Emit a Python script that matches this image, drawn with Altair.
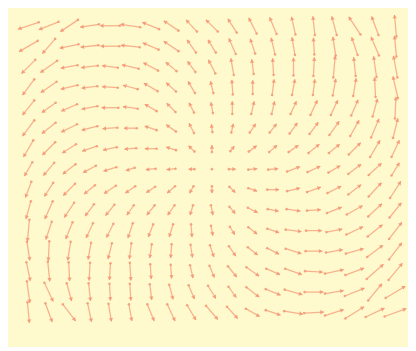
import math
import altair as alt
import pandas as pd

# grid indices (columns left->right, rows top->bottom)
COLS = list(range(19))
ROWS = list(range(15))

# vector components: U = rightward, V = downward (pixels)
U = [
    [-21, -20, -18, -19, -20, -20, -17, -15, -11, -12, -9, -8, -7, -4, -2, -5, -12, -7, -2],
    [-19, -13, -19, -18, -19, -19, -16, -15, -9, -8, -7, -5, -4, -3, -1, -3, -6, -8, -2],
    [-14, -17, -17, -17, -16, -17, -15, -11, -8, -7, -3, -2, -1, 0, 1, 2, -2, -3, -4],
    [-12, -16, -17, -16, -16, -15, -14, -10, -7, -3, -1, 0, 2, 3, 2, 3, 3, -1, -5],
    [-12, -14, -16, -16, -17, -15, -12, -9, -5, -2, 0, 3, 3, 6, 7, 7, 7, 5, 1],
    [-12, -14, -16, -16, -15, -13, -12, -10, -5, -1, 2, 6, 7, 8, 9, 10, 9, 8, 5],
    [-10, -13, -14, -15, -14, -12, -12, -10, -6, 0, 4, 8, 8, 10, 11, 11, 12, 10, 8],
    [-8, -11, -13, -13, -13, -9, -10, -9, -6, 0, 7, 9, 10, 13, 13, 12, 13, 13, 8],
    [-6, -9, -12, -11, -12, -10, -9, -8, -4, 0, 6, 9, 12, 13, 14, 14, 13, 13, 11],
    [-5, -8, -10, -9, -9, -7, -8, -7, -3, 2, 6, 10, 11, 14, 14, 15, 16, 14, 12],
    [-2, -6, -7, -7, -7, -5, -5, -4, 1, 2, 5, 9, 12, 16, 16, 16, 17, 15, 13],
    [3, -1, -3, -3, -4, -2, -2, -1, 2, 4, 7, 10, 12, 16, 17, 17, 18, 16, 13],
    [4, 2, 1, -1, -1, 1, 1, 1, 3, 5, 9, 13, 14, 17, 18, 19, 19, 17, 14],
    [3, 9, 5, 2, 1, 1, 2, 4, 6, 8, 8, 13, 15, 18, 19, 19, 20, 14, 20],
    [2, 7, 13, 4, 3, 3, 7, 8, 9, 12, 11, 14, 15, 19, 20, 19, 19, 19, 22],
]
V = [
    [7, 8, 12, 3, 0, -3, -7, -10, -12, -12, -14, -16, -17, -18, -19, -19, -18, -19, -22],
    [11, 15, 4, 2, 0, -2, -7, -10, -13, -13, -16, -15, -17, -18, -17, -19, -18, -19, -21],
    [14, 12, 3, 2, -2, -4, -8, -9, -11, -14, -17, -15, -17, -18, -19, -22, -19, -21, -22],
    [16, 11, 4, 2, -1, -4, -8, -9, -12, -12, -15, -14, -16, -16, -16, -17, -18, -20, -22],
    [15, 10, 7, 3, 0, -2, -7, -9, -10, -11, -13, -13, -13, -13, -15, -15, -16, -18, -22],
    [16, 11, 8, 4, 1, 0, -4, -7, -10, -8, -9, -9, -9, -11, -12, -14, -16, -19, -20],
    [17, 13, 9, 5, 3, 1, 0, -3, -6, -7, -5, -6, -7, -7, -9, -9, -12, -17, -17],
    [14, 13, 10, 7, 4, 3, 1, 1, 0, 0, 0, -1, -1, -5, -6, -7, -10, -12, -13],
    [16, 14, 12, 9, 8, 7, 6, 7, 7, 7, 6, 3, 0, -3, -5, -7, -10, -14, -17],
    [18, 18, 15, 12, 11, 10, 10, 10, 10, 10, 7, 5, 2, 2, -1, -6, -9, -13, -15],
    [22, 18, 17, 15, 14, 15, 13, 13, 13, 10, 8, 7, 4, 2, 0, -3, -8, -12, -17],
    [19, 20, 19, 17, 16, 16, 14, 14, 13, 12, 10, 8, 6, 5, 0, -3, -5, -12, -17],
    [19, 20, 19, 18, 17, 18, 15, 14, 13, 12, 11, 9, 6, 6, 1, -4, -7, -15, -17],
    [22, 19, 18, 18, 17, 17, 16, 15, 14, 13, 11, 10, 6, 5, 0, -3, -8, -17, -12],
    [21, 19, 17, 19, 18, 17, 17, 17, 15, 14, 12, 8, 5, 3, -1, -6, -12, -9, -8],
]

W, H = 408, 339
SX, SY = 20.8, 20.9          # pixels per grid step
X0, Y0 = 20.8, 14.7          # pixel position of first grid point
xdom = [-X0 / SX, (W - X0) / SX]
ydom = [-Y0 / SY, (H - Y0) / SY]

recs = []
for j in ROWS:
    for i in COLS:
        u, v = U[j][i], V[j][i]
        L = math.hypot(u, v)
        xt, yt = i - u / 2 / SX, j - v / 2 / SY
        xh, yh = i + u / 2 / SX, j + v / 2 / SY
        if L > 0:
            hx = xh - (u / L) * 2.2 / SX
            hy = yh - (v / L) * 2.2 / SY
            ang = (math.degrees(math.atan2(u, -v)) + 360) % 360
        else:
            hx, hy, ang = xh, yh, 0
        recs.append(dict(xt=xt, yt=yt, xh=xh, yh=yh, hx=hx, hy=hy, angle=ang, L=L))
df = pd.DataFrame(recs)

COLOR = "#f39373"
xs = alt.Scale(domain=xdom, nice=False, zero=False)
ys = alt.Scale(domain=ydom, nice=False, zero=False, reverse=True)

base = alt.Chart(df)
lines = base.mark_rule(color=COLOR, strokeWidth=1.3, opacity=0.7).encode(
    x=alt.X("xt:Q", scale=xs, axis=None),
    y=alt.Y("yt:Q", scale=ys, axis=None),
    x2="xh:Q",
    y2="yh:Q",
)
tails = base.mark_circle(color=COLOR, size=7, opacity=0.8).encode(
    x=alt.X("xt:Q", scale=xs, axis=None),
    y=alt.Y("yt:Q", scale=ys, axis=None),
)
heads = base.transform_filter("datum.L > 0").mark_point(
    shape="triangle", filled=True, color=COLOR, size=20, opacity=0.8
).encode(
    x=alt.X("hx:Q", scale=xs, axis=None),
    y=alt.Y("hy:Q", scale=ys, axis=None),
    angle=alt.Angle("angle:Q", scale=None),
)

chart = alt.layer(lines, tails, heads).properties(
    width=W, height=H, padding=0, background="#fffacd"
).configure_view(stroke=None)

chart.save("out.html", embed_options={"renderer": "svg", "actions": False})
